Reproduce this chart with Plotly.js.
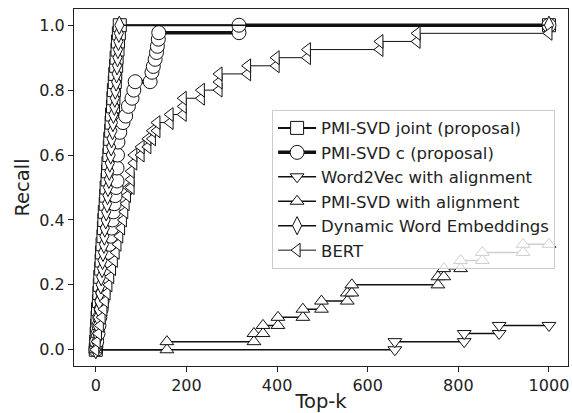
<!DOCTYPE html>
<html>
<head>
<meta charset="utf-8">
<script src="https://cdn.plot.ly/plotly-3.0.1.min.js"></script>
<style>html,body{margin:0;padding:0;background:#fff;}#chart{width:572px;height:413px;}</style>
</head>
<body>
<div id="chart"></div>
<script>
// ---- data ----
const seriesNames = ["PMI-SVD joint (proposal)", "PMI-SVD c (proposal)", "Word2Vec with alignment",
  "PMI-SVD with alignment", "Dynamic Word Embeddings", "BERT"];

const jointK = [0,1,2,3,4,5,7,8,9,10,12,13,14,15,17,18,19,20,22,23,24,26,27,28,30,31,32,34,35,36,38,39,40,42,43,45,46,48,49,51,53,1000];
const jointR = [0,0.025,0.05,0.075,0.1,0.125,0.15,0.175,0.2,0.225,0.25,0.275,0.3,0.325,0.35,0.375,0.4,0.425,0.45,0.475,0.5,0.525,0.55,0.575,0.6,0.625,0.65,0.675,0.7,0.725,0.75,0.775,0.8,0.825,0.85,0.875,0.9,0.925,0.95,0.975,1.0,1.0];

const cK = [0,2,5,7,9,12,14,16,19,21,23,26,28,30,33,35,37,39,41,43,45,47,47,48,49,53,60,66,72,80,84,87,120,124,127,131,134,136,138,139,316,316,1000];
const cR = [0,0.025,0.05,0.075,0.1,0.125,0.15,0.175,0.2,0.225,0.25,0.275,0.3,0.325,0.35,0.375,0.4,0.425,0.45,0.475,0.5,0.52,0.56,0.6,0.64,0.67,0.7,0.72,0.75,0.775,0.8,0.826,0.826,0.855,0.873,0.895,0.916,0.935,0.957,0.977,0.977,1.0,1.0];

const w2vK = [0,660,660,813,813,890,890,1000];
const w2vR = [0,0,0.025,0.025,0.05,0.05,0.075,0.075];

const alignK = [0,157,157,349,349,369,369,402,402,457,457,498,498,555,555,565,565,755,755,768,768,805,805,853,853,943,943,1000];
const alignR = [0,0,0.025,0.025,0.05,0.05,0.075,0.075,0.1,0.1,0.125,0.125,0.15,0.15,0.175,0.175,0.2,0.2,0.225,0.225,0.25,0.25,0.275,0.275,0.3,0.3,0.325,0.325];

const dweK = [0,1,3,4,5,7,8,10,11,12,14,15,16,18,19,20,22,23,25,26,27,29,30,31,33,34,35,37,38,39,41,42,43,45,46,47,48,49,50,51,52,1000];
const dweR = [0,0.025,0.05,0.075,0.1,0.125,0.15,0.175,0.2,0.225,0.25,0.275,0.3,0.325,0.35,0.375,0.4,0.425,0.45,0.475,0.5,0.525,0.55,0.575,0.6,0.625,0.65,0.675,0.7,0.725,0.75,0.775,0.8,0.825,0.85,0.875,0.9,0.925,0.95,0.975,1.0,1.0];

const bertK = [0,3,6,10,14,18,21,25,29,33,37,41,45,49,53,57,61,64,67,70,73,78,78,78,84,84,100,100,115,115,125,125,135,135,164,164,193,193,193,233,233,272,272,272,335,335,398,398,467,467,627,627,709,709,1000];
const bertR = [0,0.025,0.05,0.075,0.1,0.125,0.15,0.175,0.2,0.225,0.25,0.275,0.3,0.325,0.35,0.375,0.4,0.425,0.45,0.475,0.5,0.5,0.525,0.55,0.575,0.6,0.6,0.625,0.625,0.65,0.65,0.675,0.675,0.7,0.7,0.725,0.725,0.75,0.775,0.775,0.8,0.8,0.825,0.85,0.85,0.875,0.875,0.9,0.9,0.925,0.925,0.95,0.95,0.975,0.975];

const xTicks = [0,200,400,600,800,1000];
const yTicks = [0.0,0.2,0.4,0.6,0.8,1.0];

// ---- styles ----
function tr(name, x, y, symbol, msize, lw) {
  return {
    type: 'scatter', mode: 'lines+markers', name: name, x: x, y: y,
    line: {color: '#111', width: lw},
    marker: {symbol: symbol, size: msize, color: '#ffffff', line: {color: '#111', width: 1}}
  };
}
const data = [
  tr(seriesNames[0], jointK, jointR, 'square', 13, 2),
  tr(seriesNames[1], cK, cR, 'circle', 14, 3.5),
  tr(seriesNames[2], w2vK, w2vR, 'triangle-down', 12, 1.5),
  tr(seriesNames[3], alignK, alignR, 'triangle-up', 12, 1.5),
  tr(seriesNames[4], dweK, dweR, 'diamond-tall', 13, 1.5),
  tr(seriesNames[5], bertK, bertR, 'triangle-left', 12, 1)
];

const font = {family: 'DejaVu Sans, sans-serif', color: '#222'};
const layout = {
  width: 572, height: 413,
  margin: {l: 74, r: 4, t: 9, b: 47},
  paper_bgcolor: '#fff', plot_bgcolor: '#fff',
  font: Object.assign({size: 16}, font),
  showlegend: true,
  legend: {
    x: 0.401, y: 0.718, xanchor: 'left', yanchor: 'top',
    bgcolor: 'rgba(255,255,255,0.8)', bordercolor: '#cccccc', borderwidth: 1,
    font: Object.assign({size: 16.5}, font), itemwidth: 38
  },
  xaxis: {
    range: [-48, 1042], tickvals: xTicks, ticktext: xTicks.map(String),
    ticks: 'outside', ticklen: 5, tickcolor: '#222', showgrid: false, zeroline: false,
    showline: true, mirror: true, linecolor: '#222', linewidth: 1,
    tickfont: Object.assign({size: 16}, font),
    title: {text: 'Top-k', font: Object.assign({size: 19.5}, font), standoff: 6}
  },
  yaxis: {
    range: [-0.05, 1.05], tickvals: yTicks, ticktext: yTicks.map(v => v.toFixed(1)),
    ticks: 'outside', ticklen: 5, tickcolor: '#222', showgrid: false, zeroline: false,
    showline: true, mirror: true, linecolor: '#222', linewidth: 1,
    tickfont: Object.assign({size: 16}, font),
    title: {text: 'Recall', font: Object.assign({size: 19.5}, font), standoff: 4}
  }
};
Plotly.newPlot('chart', data, layout, {staticPlot: true, displayModeBar: false});
</script>
</body>
</html>
